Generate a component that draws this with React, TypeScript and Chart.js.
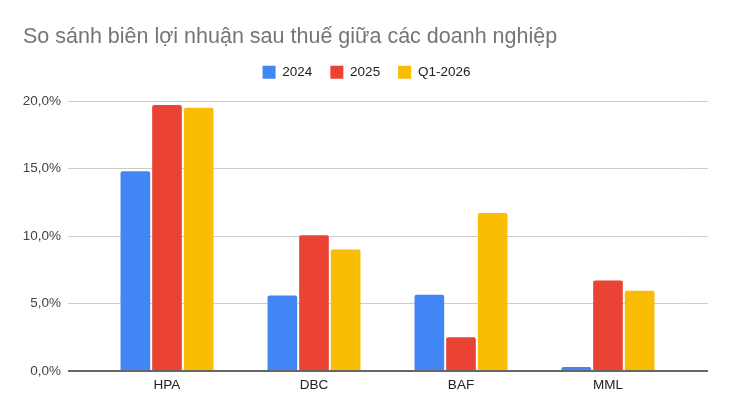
import { useEffect, useRef } from 'react';
import Chart from 'chart.js/auto';

const COMPANIES = ['HPA', 'DBC', 'BAF', 'MML'];
const SERIES_NAMES = ['2024', '2025', 'Q1-2026'];
const MARGIN_2024 = [14.8, 5.6, 5.65, 0.3];
const MARGIN_2025 = [19.7, 10.05, 2.5, 6.7];
const MARGIN_Q1_2026 = [19.5, 9.0, 11.7, 5.95];
const Y_MIN = 0;
const Y_MAX = 20;
const Y_STEP = 5;
const TITLE = 'So sánh biên lợi nhuận sau thuế giữa các doanh nghiệp';

const C = {
  blue: '#4285F4',
  red: '#EA4335',
  yellow: '#FBBC04',
  grid: '#cccccc',
  base: '#666666',
  title: '#757575',
  text: '#222222',
  tick: '#444444'
};

const FONT = '"Liberation Sans", Arial, sans-serif';
const PLOT_TOP = 101;

const fmt = (v: number) => v.toFixed(1).replace('.', ',') + '%';

export default function App() {
  const canvasRef = useRef<HTMLCanvasElement | null>(null);

  useEffect(() => {
    document.body.style.margin = '0';
    if (!canvasRef.current) return;

    const lineColor = (ctx: any) => (ctx.tick && ctx.tick.value === 0 ? C.base : C.grid);
    const lineWidth = (ctx: any) => (ctx.tick && ctx.tick.value === 0 ? 2 : 1);

    const chart = new Chart(canvasRef.current, {
      type: 'bar',
      data: {
        labels: COMPANIES,
        datasets: [
          { label: SERIES_NAMES[0], data: MARGIN_2024, backgroundColor: C.blue },
          { label: SERIES_NAMES[1], data: MARGIN_2025, backgroundColor: C.red },
          { label: SERIES_NAMES[2], data: MARGIN_Q1_2026, backgroundColor: C.yellow }
        ]
      },
      options: {
        responsive: true,
        maintainAspectRatio: false,
        animation: false,
        layout: {
          padding: { left: 23, right: 20, top: 0, bottom: 17 }
        },
        datasets: {
          bar: {
            categoryPercentage: 0.646,
            barPercentage: 0.937,
            borderRadius: { topLeft: 2, topRight: 2 },
            borderSkipped: 'bottom'
          }
        },
        plugins: {
          title: {
            display: true,
            text: TITLE,
            align: 'start',
            color: C.title,
            font: { family: FONT, size: 21.5, weight: 'normal', lineHeight: 1 },
            padding: { top: 26, bottom: 0 }
          },
          legend: {
            position: 'top',
            align: 'center',
            labels: {
              boxWidth: 13,
              boxHeight: 13,
              padding: 18,
              color: C.text,
              font: { family: FONT, size: 13.5, lineHeight: 1 }
            }
          },
          tooltip: { enabled: false }
        },
        scales: {
          x: {
            z: 1,
            afterFit: (s: any) => {
              s.height = 22;
            },
            grid: { display: false, drawTicks: false },
            border: { display: true, color: C.base, width: 2 },
            ticks: {
              padding: 6,
              color: C.text,
              font: { family: FONT, size: 13.5 }
            }
          },
          // empty band between the legend and the plot
          xTop: {
            position: 'top',
            afterFit: (s: any) => {
              const t = s.chart.titleBlock ? s.chart.titleBlock.height : 0;
              const l = s.chart.legend ? s.chart.legend.height : 0;
              s.height = Math.max(0, PLOT_TOP - t - l);
            },
            grid: { display: false, drawTicks: false },
            border: { display: false },
            ticks: { display: false }
          },
          y: {
            min: Y_MIN,
            max: Y_MAX,
            afterFit: (s: any) => {
              s.width = 70.5;
            },
            border: { display: false },
            grid: {
              color: lineColor,
              lineWidth: lineWidth,
              drawTicks: true,
              tickLength: 25.5
            },
            ticks: {
              stepSize: Y_STEP,
              padding: 7,
              color: C.tick,
              font: { family: FONT, size: 13.5 },
              callback: (v: any) => fmt(Number(v))
            }
          },
          y2: {
            position: 'right',
            min: Y_MIN,
            max: Y_MAX,
            afterFit: (s: any) => {
              s.width = 28.5;
            },
            border: { display: false },
            grid: {
              drawOnChartArea: false,
              drawTicks: true,
              tickLength: 26.5,
              color: lineColor,
              lineWidth: lineWidth
            },
            ticks: { stepSize: Y_STEP, display: false }
          }
        }
      }
    });

    return () => {
      chart.destroy();
    };
  }, []);

  return (
    <div style={{ position: 'relative', width: 730, height: 410, background: '#fff' }}>
      <canvas ref={canvasRef}></canvas>
    </div>
  );
}
